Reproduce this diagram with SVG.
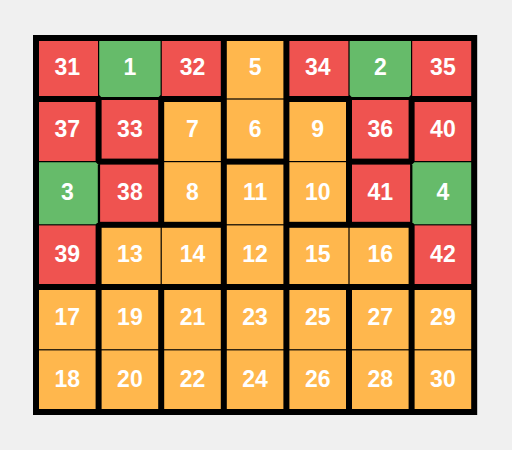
<svg xmlns="http://www.w3.org/2000/svg" width="512" height="450" viewBox="0 0 512 450">
<style>
.r{fill:#EF5350}
.g{fill:#66BB6A}
.o{fill:#FFB74D}
text{font-family:"Liberation Sans",Arial,sans-serif;font-weight:bold;font-size:23px;fill:#ffffff;text-anchor:middle}
</style>
<rect x="0" y="0" width="512" height="450" fill="#f0f0f0"/>
<g id="walls">
<rect x="33" y="35" width="444.2" height="380" fill="#000000"/>
</g>
<g id="cells">
<g id="c31"><rect class="r" x="39" y="41" width="59" height="55"/><text x="67.3" y="74.9">31</text></g>
<g id="c1"><path class="g" d="M99.2,41 H160.6 V95 L158.6,97 H101.2 L99.2,95 Z"/><text x="129.9" y="74.9">1</text></g>
<g id="c32"><rect class="r" x="161.8" y="41" width="59" height="55"/><text x="192.5" y="74.9">32</text></g>
<g id="c5"><rect class="o" x="226.8" y="41" width="56.6" height="57.4"/><text x="255.1" y="74.9">5</text></g>
<g id="c34"><rect class="r" x="289.4" y="41" width="59" height="55"/><text x="317.7" y="74.9">34</text></g>
<g id="c2"><path class="g" d="M349.6,41 H411 V95 L409,97 H351.6 L349.6,95 Z"/><text x="380.3" y="74.9">2</text></g>
<g id="c35"><rect class="r" x="412.2" y="41" width="59" height="55"/><text x="442.9" y="74.9">35</text></g>

<g id="c37"><rect class="r" x="39" y="102" width="56.6" height="59"/><text x="67.3" y="136.7">37</text></g>
<g id="c33"><rect class="r" x="101.6" y="100" width="56.6" height="58.6"/><text x="129.9" y="136.7">33</text></g>
<g id="c7"><rect class="o" x="164.2" y="102" width="56.6" height="59"/><text x="192.5" y="136.7">7</text></g>
<g id="c6"><rect class="o" x="226.8" y="99.6" width="56.6" height="59"/><text x="255.1" y="136.7">6</text></g>
<g id="c9"><rect class="o" x="289.4" y="102" width="56.6" height="59"/><text x="317.7" y="136.7">9</text></g>
<g id="c36"><rect class="r" x="352" y="100" width="56.6" height="58.6"/><text x="380.3" y="136.7">36</text></g>
<g id="c40"><rect class="r" x="414.6" y="102" width="56.6" height="59"/><text x="442.9" y="136.7">40</text></g>

<g id="c3"><path class="g" d="M39,162.2 H95.8 L97.8,164.2 V222.2 L95.8,224.2 H39 Z"/><text x="67.3" y="199.6">3</text></g>
<g id="c38"><rect class="r" x="100.1" y="164.6" width="58.1" height="57.2"/><text x="129.9" y="199.6">38</text></g>
<g id="c8"><rect class="o" x="164.2" y="162.2" width="56.6" height="59.6"/><text x="192.5" y="199.6">8</text></g>
<g id="c11"><rect class="o" x="226.8" y="164.6" width="56.6" height="59.6"/><text x="255.1" y="199.6">11</text></g>
<g id="c10"><rect class="o" x="289.4" y="162.2" width="56.6" height="59.6"/><text x="317.7" y="199.6">10</text></g>
<g id="c41"><rect class="r" x="352" y="164.6" width="58.1" height="57.2"/><text x="380.3" y="199.6">41</text></g>
<g id="c4"><path class="g" d="M414.4,162.2 H471.2 V224.2 H414.4 L412.4,222.2 V164.2 Z"/><text x="442.9" y="199.6">4</text></g>

<g id="c39"><rect class="r" x="39" y="225.4" width="56.6" height="58.6"/><text x="67.3" y="262.3">39</text></g>
<g id="c13"><rect class="o" x="101.6" y="227.8" width="59" height="56.2"/><text x="129.9" y="262.3">13</text></g>
<g id="c14"><rect class="o" x="161.8" y="227.8" width="59" height="56.2"/><text x="192.5" y="262.3">14</text></g>
<g id="c12"><rect class="o" x="226.8" y="225.4" width="56.6" height="58.6"/><text x="255.1" y="262.3">12</text></g>
<g id="c15"><rect class="o" x="289.4" y="227.8" width="59" height="56.2"/><text x="317.7" y="262.3">15</text></g>
<g id="c16"><rect class="o" x="349.6" y="227.8" width="59" height="56.2"/><text x="380.3" y="262.3">16</text></g>
<g id="c42"><rect class="r" x="414.6" y="225.4" width="56.6" height="58.6"/><text x="442.9" y="262.3">42</text></g>

<g id="c17"><rect class="o" x="39" y="290" width="56.6" height="59.2"/><text x="67.3" y="324.8">17</text></g>
<g id="c19"><rect class="o" x="101.6" y="290" width="56.6" height="59.2"/><text x="129.9" y="324.8">19</text></g>
<g id="c21"><rect class="o" x="164.2" y="290" width="56.6" height="59.2"/><text x="192.5" y="324.8">21</text></g>
<g id="c23"><rect class="o" x="226.8" y="290" width="56.6" height="59.2"/><text x="255.1" y="324.8">23</text></g>
<g id="c25"><rect class="o" x="289.4" y="290" width="56.6" height="59.2"/><text x="317.7" y="324.8">25</text></g>
<g id="c27"><rect class="o" x="352" y="290" width="56.6" height="59.2"/><text x="380.3" y="324.8">27</text></g>
<g id="c29"><rect class="o" x="414.6" y="290" width="56.6" height="59.2"/><text x="442.9" y="324.8">29</text></g>

<g id="c18"><rect class="o" x="39" y="350.4" width="56.6" height="58.6"/><text x="67.3" y="387.3">18</text></g>
<g id="c20"><rect class="o" x="101.6" y="350.4" width="56.6" height="58.6"/><text x="129.9" y="387.3">20</text></g>
<g id="c22"><rect class="o" x="164.2" y="350.4" width="56.6" height="58.6"/><text x="192.5" y="387.3">22</text></g>
<g id="c24"><rect class="o" x="226.8" y="350.4" width="56.6" height="58.6"/><text x="255.1" y="387.3">24</text></g>
<g id="c26"><rect class="o" x="289.4" y="350.4" width="56.6" height="58.6"/><text x="317.7" y="387.3">26</text></g>
<g id="c28"><rect class="o" x="352" y="350.4" width="56.6" height="58.6"/><text x="380.3" y="387.3">28</text></g>
<g id="c30"><rect class="o" x="414.6" y="350.4" width="56.6" height="58.6"/><text x="442.9" y="387.3">30</text></g>
</g>
</svg>
